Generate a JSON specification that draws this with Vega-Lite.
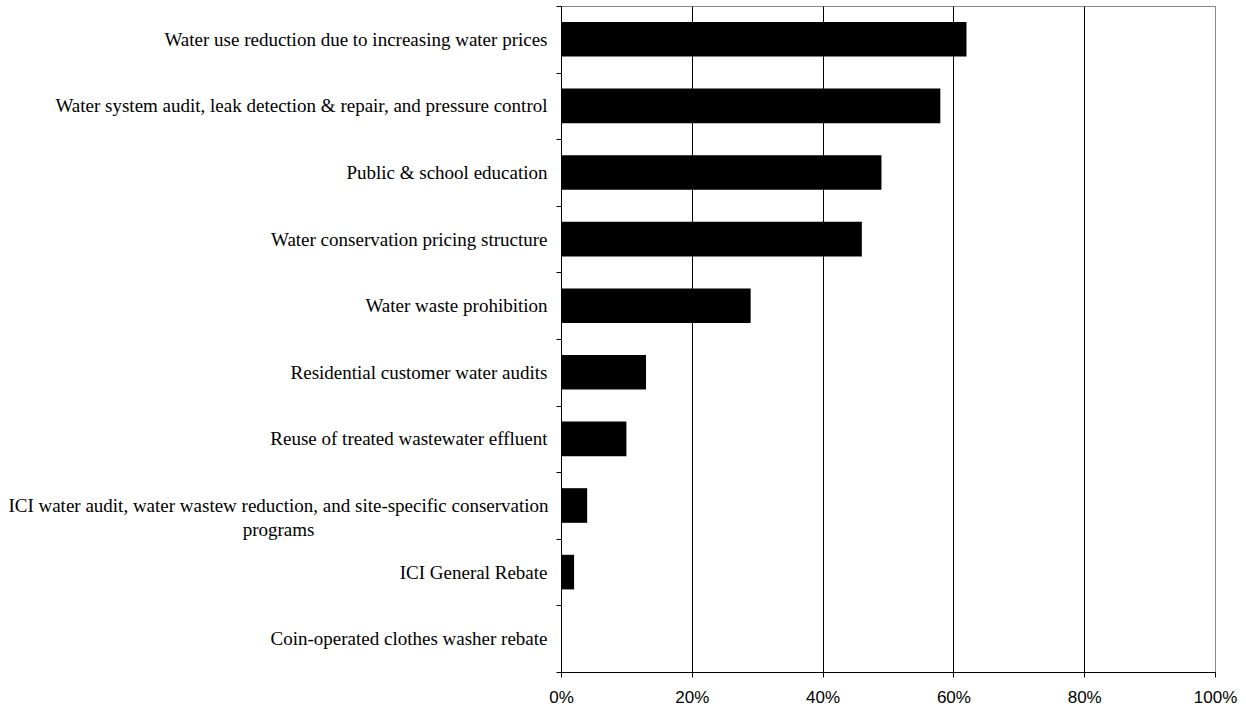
{
  "$schema": "https://vega.github.io/schema/vega-lite/v6.json",
  "autosize": {"type": "none"},
  "padding": {"left": 561, "top": 6, "right": 31, "bottom": 37},
  "width": 654,
  "height": 666,
  "background": "white",
  "config": {
    "view": {"stroke": "#888888", "strokeWidth": 1}
  },
  "data": {
    "values": [
      {"measure": "Water use reduction due to increasing water prices", "share": 0.62},
      {"measure": "Water system audit, leak detection & repair, and pressure control", "share": 0.58},
      {"measure": "Public & school education", "share": 0.49},
      {"measure": "Water conservation pricing structure", "share": 0.46},
      {"measure": "Water waste prohibition", "share": 0.29},
      {"measure": "Residential customer water audits", "share": 0.13},
      {"measure": "Reuse of treated wastewater effluent", "share": 0.10},
      {"measure": "ICI water audit, water wastew reduction, and site-specific conservation programs", "share": 0.04},
      {"measure": "ICI General Rebate", "share": 0.02},
      {"measure": "Coin-operated clothes washer rebate", "share": 0.0}
    ]
  },
  "mark": {"type": "bar", "color": "black", "height": {"band": 0.52}},
  "encoding": {
    "y": {
      "field": "measure",
      "type": "nominal",
      "sort": null,
      "scale": {"paddingInner": 0, "paddingOuter": 0},
      "axis": {
        "title": null,
        "tickBand": "extent",
        "grid": false,
        "domainColor": "black",
        "tickColor": "black",
        "tickSize": 5,
        "labelFont": "Liberation Serif",
        "labelFontSize": 19,
        "labelColor": "black",
        "labelLimit": 0,
        "labelLineHeight": 24,
        "labelExpr": "indexof(datum.label, 'conservation programs') > 0 ? ['ICI water audit, water wastew reduction, and site-specific conservation', 'programs'] : datum.label",
        "labelAlign": {"condition": {"test": "indexof(datum.label, 'conservation programs') > 0", "value": "center"}, "value": "right"},
        "labelPadding": {"condition": {"test": "indexof(datum.label, 'conservation programs') > 0", "value": 278}, "value": 9}
      }
    },
    "x": {
      "field": "share",
      "type": "quantitative",
      "scale": {"domain": [0, 1], "nice": false},
      "axis": {
        "title": null,
        "values": [0, 0.2, 0.4, 0.6, 0.8, 1],
        "format": ".0%",
        "grid": true,
        "gridColor": {"condition": {"test": "datum.value == 1", "value": "#888888"}, "value": "black"},
        "gridOpacity": 1,
        "domainColor": "black",
        "tickColor": "black",
        "tickSize": 5,
        "labelFont": "Liberation Sans",
        "labelFontSize": 17,
        "labelColor": "black",
        "labelPadding": 12,
        "labelFlush": false
      }
    }
  }
}
